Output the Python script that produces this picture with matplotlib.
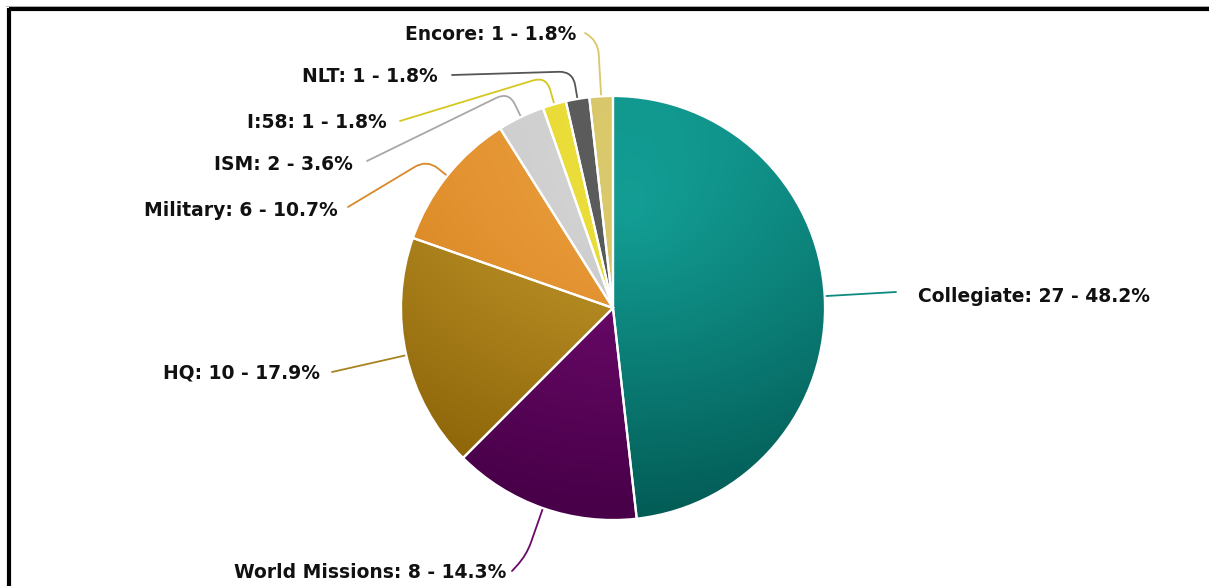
import numpy as np
import matplotlib
matplotlib.use("Agg")
import matplotlib.pyplot as plt
from matplotlib.path import Path
from matplotlib.patches import PathPatch
from matplotlib.colors import to_rgb

# ---- data ----
categories = ["Collegiate", "World Missions", "HQ", "Military", "ISM", "I:58", "NLT", "Encore"]
values = [27, 8, 10, 6, 2, 1, 1, 1]

# ---- styles ----
light_colors = ["#15a89e", "#7c0e7a", "#cca232", "#f0a443", "#dadada", "#efe240", "#606060", "#ddcd70"]
dark_colors = ["#035d57", "#480048", "#8a6206", "#cf7815", "#b5b5b5", "#dccc20", "#4a4a4a", "#cdb95a"]
line_colors = ["#0d8a82", "#6a0a68", "#a88420", "#d88a2a", "#a8a8a8", "#d4c820", "#555555", "#d8c868"]

W, H = 1209, 586
fig = plt.figure(figsize=(W / 100, H / 100), dpi=100)
ax = fig.add_axes([0, 0, 1, 1])
ax.set_xlim(0, W)
ax.set_ylim(0, H)
ax.axis("off")

def py(y):
    return H - y

cx, cy = 613, py(308)
R = 212

wedges, _ = ax.pie(values, colors=light_colors, startangle=90, counterclock=False,
                   center=(cx, cy), radius=R, frame=True,
                   wedgeprops=dict(edgecolor="white", linewidth=1.6))

# gradient fill (radial + vertical) clipped to each wedge
fx, fy = 630, py(215)
xs = np.linspace(cx - R, cx + R, 400)
ys = np.linspace(cy - R, cy + R, 400)
XX, YY = np.meshgrid(xs, ys)
dist = np.sqrt((XX - fx) ** 2 + (YY - fy) ** 2)
vert = (cy + R - YY) / (2 * R)
t = np.clip(0.55 * dist / 320.0 + 0.5 * vert, 0, 1)[..., None]
for w, lc, dc in zip(wedges, light_colors, dark_colors):
    l = np.array(to_rgb(lc)); d = np.array(to_rgb(dc))
    img = l * (1 - t) + d * t
    im = ax.imshow(img, extent=(cx - R, cx + R, cy - R, cy + R), origin="lower",
                   zorder=2, interpolation="bilinear")
    im.set_clip_path(w)
    w.set_facecolor("none")
    w.set_zorder(3)

ax.set_xlim(0, W)
ax.set_ylim(0, H)
ax.set_aspect("auto")
ax.axis("off")

# ---- labels & connectors (layout) ----
text_pos = [(918, 296, "left"), (506, 572, "right"), (320, 373, "right"), (338, 211, "right"),
            (353, 165, "right"), (387, 122, "right"), (438, 77, "right"), (576, 35, "right")]
line_end = [(896, 292), (512, 571), (332, 372), (348, 207), (367, 161), (400, 121), (452, 75), (585, 33)]
elbow_r = [None, 262, 235, 238, 240, 241, 240, 268]

total = sum(values)
for i, (w, name, v) in enumerate(zip(wedges, categories, values)):
    ang = np.deg2rad((w.theta1 + w.theta2) / 2)
    u = np.array([np.cos(ang), np.sin(ang)])
    c = np.array([cx, cy])
    p0 = c + u * (R + 1)
    ex, ey = line_end[i]
    pe = np.array([ex, py(ey)])
    if elbow_r[i] is None:
        verts = [p0, pe]
        codes = [Path.MOVETO, Path.LINETO]
    else:
        d = 14
        el = c + u * elbow_r[i]
        p1 = c + u * (elbow_r[i] - d)
        v2 = pe - el
        p2 = el + d * v2 / np.linalg.norm(v2)
        verts = [p0, p1, el, p2, pe]
        codes = [Path.MOVETO, Path.LINETO, Path.CURVE3, Path.CURVE3, Path.LINETO]
    ax.add_patch(PathPatch(Path(verts, codes), fc="none", ec=line_colors[i], lw=1.3,
                           zorder=1, capstyle="round"))
    pct = v / total * 100
    tx, ty, ha = text_pos[i]
    ax.text(tx, py(ty), f"{name}: {v} - {pct:.1f}%", ha=ha, va="center",
            fontsize=13.5, fontweight="bold", family="DejaVu Sans", color="#111111")

# frame (top and left borders)
ax.plot([9, W], [py(9), py(9)], color="black", lw=3.0, solid_capstyle="butt", zorder=5)
ax.plot([9, 9], [py(7.5), 0], color="black", lw=3.0, solid_capstyle="butt", zorder=5)
ax.plot([6, W], [py(6), py(6)], color="#bbbbbb", lw=0.8, zorder=4)

fig.savefig("out.png", dpi=100)
